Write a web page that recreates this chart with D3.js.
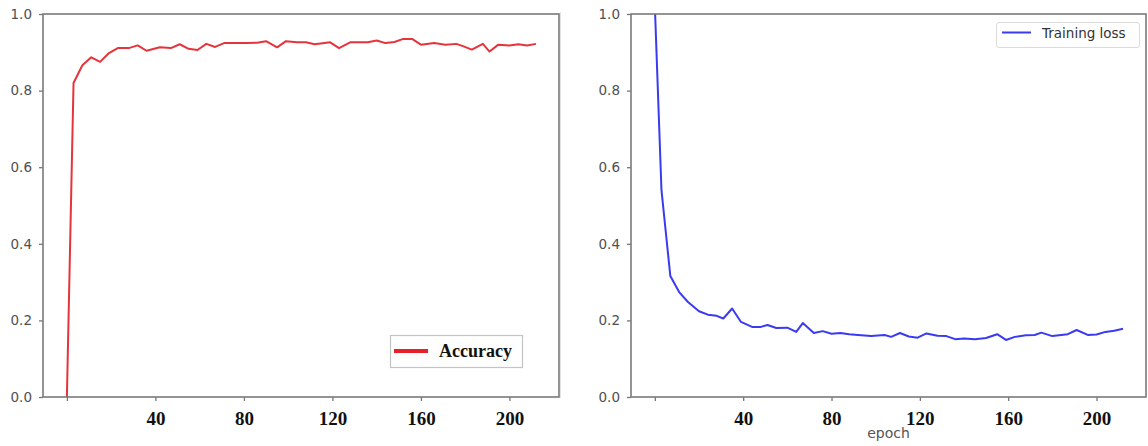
<!DOCTYPE html>
<html>
<head>
<meta charset="utf-8">
<script src="https://cdn.jsdelivr.net/npm/d3@7"></script>
<style>
  html, body { margin: 0; padding: 0; background: #fff; }
  svg { display: block; }
  .ytick text { font-family: "DejaVu Sans", sans-serif; font-size: 13.5px; fill: #505050; }
  .xtick text { font-family: "Liberation Serif", "Times New Roman", serif; font-weight: bold; font-size: 19px; fill: #111; }
</style>
</head>
<body>
<svg id="chart" width="1148" height="446"></svg>
<script>
// accuracy curve (left)
var accEpochs = [0, 3, 7, 11, 15, 19, 23, 28, 32, 36, 42, 47, 51, 55, 59, 63, 67, 71, 76, 81,
  86, 90, 95, 99, 104, 108, 112, 119, 123, 128, 132, 136, 140, 144, 148, 152, 156, 160, 166, 171,
  176, 179, 183, 188, 191, 195, 200, 204, 208, 212]
var accValues = [0.0, 0.82, 0.866, 0.887, 0.875, 0.898, 0.911, 0.911, 0.918, 0.904, 0.913, 0.911, 0.921, 0.909, 0.906, 0.922, 0.914, 0.924, 0.924, 0.924,
  0.925, 0.929, 0.913, 0.929, 0.926, 0.926, 0.921, 0.926, 0.911, 0.926, 0.926, 0.926, 0.931, 0.924, 0.927, 0.935, 0.935, 0.92, 0.924, 0.92,
  0.922, 0.916, 0.907, 0.922, 0.902, 0.92, 0.918, 0.921, 0.918, 0.922]

// training loss curve (right)
var lossEpochs = [0, 3, 7, 11, 15, 20, 24, 28, 31, 35, 39, 44, 48, 51, 55, 60, 64, 67, 72, 76,
  80, 84, 88, 92, 98, 104, 107, 111, 115, 119, 123, 128, 132, 136, 140, 145, 150, 155, 159, 163,
  168, 172, 175, 180, 184, 187, 191, 196, 200, 204, 208, 212]
var lossValues = [1.02, 0.54, 0.316, 0.274, 0.248, 0.224, 0.215, 0.212, 0.205, 0.231, 0.196, 0.183, 0.183, 0.188, 0.18, 0.181, 0.17, 0.193, 0.167, 0.172,
  0.165, 0.167, 0.164, 0.162, 0.159, 0.162, 0.157, 0.167, 0.158, 0.155, 0.166, 0.16, 0.159, 0.151, 0.153, 0.151, 0.154, 0.164, 0.149, 0.157,
  0.161, 0.162, 0.168, 0.159, 0.162, 0.164, 0.175, 0.162, 0.163, 0.17, 0.173, 0.178]

var xTicks = [0, 40, 80, 120, 160, 200]
var xTickLabels = ['', '40', '80', '120', '160', '200']
var yTicks = [0, 0.2, 0.4, 0.6, 0.8, 1.0]

var svg = d3.select('#chart')

// faint border left by the screenshot crop
svg.append('line')
  .attr('x1', 560.5).attr('x2', 560.5).attr('y1', 12).attr('y2', 398)
  .attr('stroke', '#e2e2e2').attr('stroke-width', 1)

var panels = [
  { left: 43, right: 559, epochs: accEpochs, values: accValues, color: '#e5343b', id: 'acc' },
  { left: 631, right: 1146, epochs: lossEpochs, values: lossValues, color: '#3a3af2', id: 'loss' }
]
var plotTop = 14, plotBottom = 397

panels.forEach(function(p) {
  var x = d3.scaleLinear().domain([-10.8, 222.4]).range([p.left, p.right])
  var y = d3.scaleLinear().domain([0, 1]).range([plotBottom, plotTop])
  var g = svg.append('g')

  g.append('clipPath').attr('id', 'clip-' + p.id)
    .append('rect')
    .attr('x', p.left).attr('y', plotTop)
    .attr('width', p.right - p.left).attr('height', plotBottom - plotTop)

  var line = d3.line()
    .x(function(d, i) { return x(p.epochs[i]) })
    .y(function(d) { return y(d) })

  g.append('path')
    .datum(p.values)
    .attr('clip-path', 'url(#clip-' + p.id + ')')
    .attr('d', line)
    .attr('fill', 'none')
    .attr('stroke', p.color)
    .attr('stroke-width', 2)
    .attr('stroke-linejoin', 'round')

  // y axis
  var ya = g.append('g')
    .attr('class', 'ytick')
    .attr('transform', 'translate(' + p.left + ',0)')
    .call(d3.axisLeft(y).tickValues(yTicks).tickFormat(d3.format('.1f')).tickSize(4).tickPadding(7))
  ya.select('.domain').remove()
  ya.selectAll('.tick line').attr('stroke', '#777').attr('stroke-width', 1.3)

  // x axis
  var xa = g.append('g')
    .attr('class', 'xtick')
    .attr('transform', 'translate(0,' + plotBottom + ')')
    .call(d3.axisBottom(x).tickValues(xTicks)
      .tickFormat(function(d, i) { return xTickLabels[i] }).tickSize(4).tickPadding(11))
  xa.select('.domain').remove()
  xa.selectAll('.tick line').attr('stroke', '#777').attr('stroke-width', 1.3)

  // frame
  g.append('rect')
    .attr('x', p.left).attr('y', plotTop)
    .attr('width', p.right - p.left).attr('height', plotBottom - plotTop)
    .attr('fill', 'none')
    .attr('stroke', '#7a7a7a')
    .attr('stroke-width', 1.6)
})

// legend: Accuracy
var lg1 = svg.append('g')
lg1.append('rect')
  .attr('x', 390.5).attr('y', 335.5).attr('width', 132).attr('height', 32)
  .attr('fill', '#fff').attr('stroke', '#c4c4c4').attr('stroke-width', 1.2)
lg1.append('line')
  .attr('x1', 394).attr('x2', 428).attr('y1', 351).attr('y2', 351)
  .attr('stroke', '#e8202a').attr('stroke-width', 4)
lg1.append('text')
  .attr('x', 439).attr('y', 357)
  .style('font-family', '"Liberation Serif", "Times New Roman", serif')
  .style('font-weight', 'bold').style('font-size', '18px').style('fill', '#111')
  .text('Accuracy')

// legend: Training loss
var lg2 = svg.append('g')
lg2.append('rect')
  .attr('x', 996.5).attr('y', 22.5).attr('width', 143).attr('height', 25).attr('rx', 2.5)
  .attr('fill', '#fff').attr('stroke', '#dcdcdc').attr('stroke-width', 1)
lg2.append('line')
  .attr('x1', 1002).attr('x2', 1031).attr('y1', 32.5).attr('y2', 32.5)
  .attr('stroke', '#3a3af2').attr('stroke-width', 2)
lg2.append('text')
  .attr('x', 1042).attr('y', 38)
  .style('font-family', '"DejaVu Sans", sans-serif')
  .style('font-size', '13.5px').style('fill', '#333')
  .text('Training loss')

// x label for the right panel
svg.append('text')
  .attr('x', 888.5).attr('y', 438)
  .attr('text-anchor', 'middle')
  .style('font-family', '"DejaVu Sans", sans-serif')
  .style('font-size', '14px').style('fill', '#555')
  .text('epoch')
</script>
</body>
</html>
